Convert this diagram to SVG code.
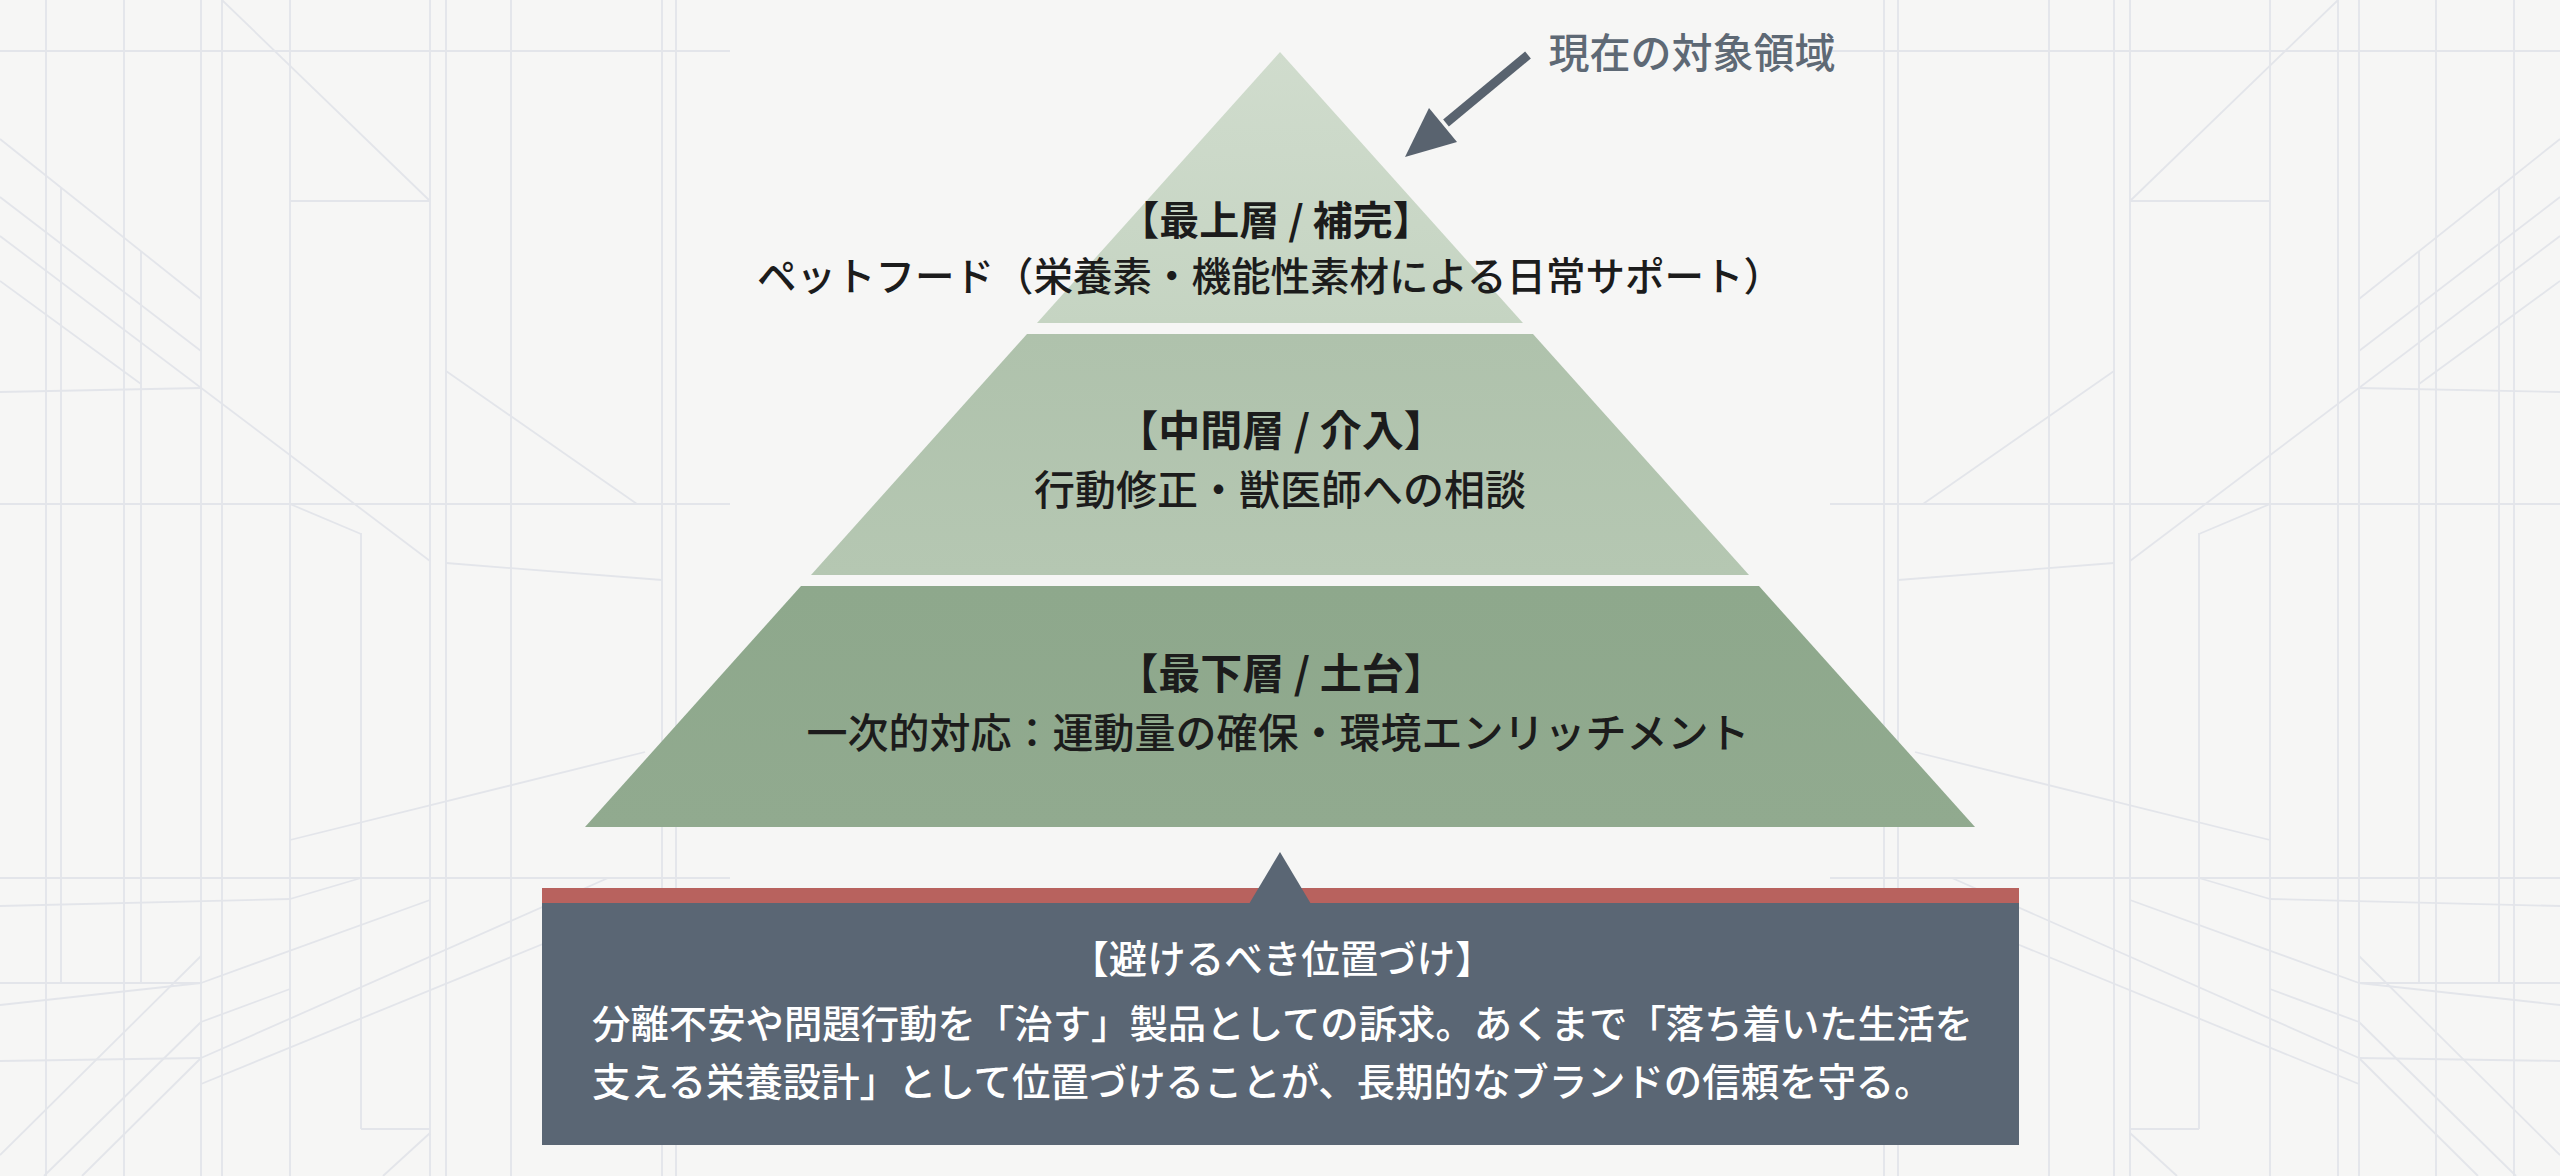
<svg xmlns="http://www.w3.org/2000/svg" width="2560" height="1176" viewBox="0 0 2560 1176">
<defs>
<style>
.t{font-family:"Noto Sans CJK JP","Noto Sans CJK SC",sans-serif;text-anchor:middle}
.h{font-weight:700;fill:#1c1c1c}
.b{font-weight:500;fill:#1c1c1c}
.w{fill:#ffffff;font-weight:500}
</style>
<linearGradient id="gTop" x1="0" y1="0" x2="0" y2="1">
<stop offset="0" stop-color="#d0dccd"/><stop offset="1" stop-color="#c5d4c2"/>
</linearGradient>
<linearGradient id="gMid" x1="0" y1="0" x2="0" y2="1">
<stop offset="0" stop-color="#afc2ac"/><stop offset="1" stop-color="#b5c7b2"/>
</linearGradient>
<linearGradient id="gBot" x1="0" y1="0" x2="0" y2="1">
<stop offset="0" stop-color="#8ea88c"/><stop offset="1" stop-color="#91aa8f"/>
</linearGradient>
<g id="bgl" stroke="#e3e5ea" stroke-width="1.8" fill="none">
<line x1="46" y1="0" x2="46" y2="1176"/>
<line x1="124" y1="0" x2="124" y2="1176"/>
<line x1="201" y1="0" x2="201" y2="1176"/>
<line x1="222" y1="0" x2="222" y2="1176"/>
<line x1="290" y1="0" x2="290" y2="1176"/>
<line x1="430" y1="0" x2="430" y2="1176"/>
<line x1="446" y1="0" x2="446" y2="1176"/>
<line x1="511" y1="0" x2="511" y2="1176"/>
<line x1="662" y1="0" x2="662" y2="1176"/>
<line x1="676" y1="0" x2="676" y2="1176"/>
<line x1="61" y1="188" x2="61" y2="983"/>
<line x1="141" y1="251" x2="141" y2="983"/>
<line x1="361" y1="533" x2="361" y2="1129"/>
<line x1="0" y1="51" x2="730" y2="51"/>
<line x1="0" y1="504" x2="730" y2="504"/>
<line x1="0" y1="878" x2="730" y2="878"/>
<line x1="0" y1="139" x2="201" y2="299"/>
<line x1="0" y1="197" x2="201" y2="351"/>
<line x1="0" y1="236" x2="430" y2="561"/>
<line x1="0" y1="281" x2="141" y2="384"/>
<line x1="222" y1="0" x2="430" y2="201"/>
<line x1="290" y1="201" x2="430" y2="201"/>
<line x1="0" y1="392" x2="201" y2="388"/>
<line x1="446" y1="371" x2="637" y2="504"/>
<line x1="290" y1="504" x2="361" y2="534"/>
<line x1="446" y1="563" x2="662" y2="580"/>
<line x1="290" y1="840" x2="645" y2="752"/>
<line x1="0" y1="906" x2="290" y2="899"/>
<line x1="290" y1="899" x2="361" y2="878"/>
<line x1="201" y1="983" x2="430" y2="900"/>
<line x1="0" y1="1005" x2="201" y2="983"/>
<line x1="0" y1="983" x2="201" y2="983"/>
<line x1="201" y1="1022" x2="290" y2="989"/>
<line x1="201" y1="1058" x2="608" y2="878"/>
<line x1="201" y1="1084" x2="560" y2="937"/>
<line x1="0" y1="1061" x2="201" y2="1058"/>
<line x1="0" y1="1155" x2="201" y2="956"/>
<line x1="44" y1="1176" x2="201" y2="1022"/>
<line x1="361" y1="1129" x2="430" y2="1129"/>
<line x1="430" y1="1133" x2="383" y2="1176"/>
<line x1="82" y1="1176" x2="201" y2="1058"/>
</g>
</defs>
<rect x="0" y="0" width="2560" height="1176" fill="#f6f6f5"/>
<g id="background">
<use href="#bgl"/>
<use href="#bgl" transform="matrix(-1 0 0 1 2560 0)"/>
</g>

<g id="tier-top">
<polygon points="1280,52 1523,323 1037,323" fill="url(#gTop)"/>
<text class="t h" x="1276" y="235" font-size="40">【最上層 / 補完】</text>
<text class="t b" x="1270" y="291" font-size="39.5">ペットフード（栄養素・機能性素材による日常サポート）</text>
</g>
<g id="tier-middle">
<polygon points="1027,334 1533,334 1749,575 811,575" fill="url(#gMid)"/>
<text class="t h" x="1281" y="446" font-size="42">【中間層 / 介入】</text>
<text class="t b" x="1280" y="505" font-size="41">行動修正・獣医師への相談</text>
</g>
<g id="tier-bottom">
<polygon points="801,586 1759,586 1975,827 585,827" fill="url(#gBot)"/>
<text class="t h" x="1281" y="689" font-size="42">【最下層 / 土台】</text>
<text class="t b" x="1278" y="748" font-size="41">一次的対応：運動量の確保・環境エンリッチメント</text>
</g>

<g id="annotation">
<text class="t" x="1692" y="68" font-size="41" fill="#5e6975" font-weight="500">現在の対象領域</text>
</g>

<g id="connectors">
<line x1="1528" y1="55" x2="1446" y2="123" stroke="#59636f" stroke-width="9"/>
<polygon points="1405,157 1457,142 1429,108" fill="#59636f"/>
</g>

<g id="warning-box">
<rect x="542" y="888" width="1477" height="257" fill="#5a6674"/>
<rect x="542" y="888" width="1477" height="15" fill="#b8625e"/>
<polygon points="1249,904 1280,852 1311,904" fill="#5a6674"/>
<text class="t w" x="1282" y="973" font-size="38.5">【避けるべき位置づけ】</text>
<text class="t w" x="592" y="1038" font-size="38.4" style="text-anchor:start">分離不安や問題行動を「治す」製品としての訴求。あくまで「落ち着いた生活を</text>
<text class="t w" x="592" y="1096" font-size="38.4" style="text-anchor:start">支える栄養設計」として位置づけることが、長期的なブランドの信頼を守る。</text>
</g>
</svg>
